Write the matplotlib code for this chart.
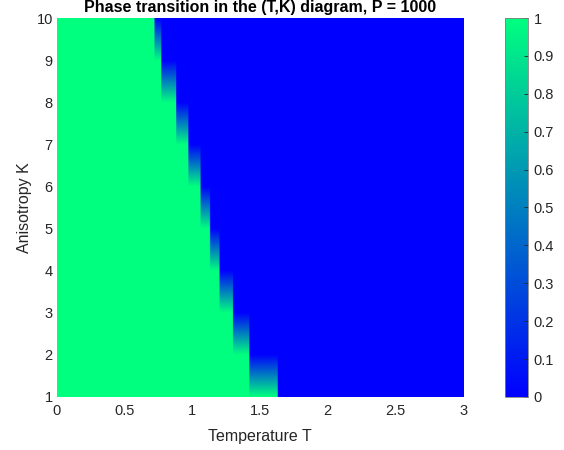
import numpy as np
import matplotlib
matplotlib.use("Agg")
import matplotlib.pyplot as plt
from matplotlib.ticker import FuncFormatter

plt.rcParams['font.family'] = ['Liberation Sans', 'DejaVu Sans']

# anisotropy values (rows) and the temperature where the ordered phase ends
K_vals = [1, 2, 3, 4, 5, 6, 7, 8, 9, 10]
T_c = [1.63, 1.42, 1.30, 1.20, 1.13, 1.06, 0.97, 0.88, 0.77, 0.72]
T_max = 3.0
x_ticks = [0, 0.5, 1, 1.5, 2, 2.5, 3]
y_ticks = [1, 2, 3, 4, 5, 6, 7, 8, 9, 10]
cb_ticks = [0, 0.1, 0.2, 0.3, 0.4, 0.5, 0.6, 0.7, 0.8, 0.9, 1]

# order parameter table on a fine T grid: 1 below T_c, 0 above
T = np.linspace(0, T_max, 601)
M = np.array([(T < tc).astype(float) for tc in T_c])

# interpolated shading between the K rows (like shading interp)
K_fine = np.linspace(K_vals[0], K_vals[-1], 451)
img = np.array([[np.interp(k, K_vals, M[:, j]) for j in range(len(T))] for k in K_fine])

fig = plt.figure(figsize=(5.64, 4.5), dpi=100)
ax = fig.add_axes([0.101, 0.118, 0.72, 0.842])
im = ax.imshow(img, origin='lower', extent=[0, T_max, K_vals[0], K_vals[-1]],
               aspect='auto', cmap='winter', vmin=0, vmax=1, interpolation='bilinear')
ax.set_xlim(0, 3)
ax.set_ylim(1, 10)
ax.set_xticks(x_ticks)
ax.set_xticklabels(['0', '0.5', '1', '1.5', '2', '2.5', '3'])
ax.set_yticks(y_ticks)
ax.tick_params(length=0, labelsize=10.5, colors='#262626')
ax.tick_params(axis='x', pad=5)
ax.tick_params(axis='y', pad=3)
for s in ax.spines.values():
    s.set_visible(False)
ax.set_xlabel('Temperature T', fontsize=11.5, color='#262626', labelpad=8)
ax.set_ylabel('Anisotropy K', fontsize=11.5, color='#262626', labelpad=3)
ax.set_title('Phase transition in the (T,K) diagram, P = 1000', fontsize=11.5,
             fontweight='bold', pad=4)

cax = fig.add_axes([0.895, 0.118, 0.041, 0.842])
cb = fig.colorbar(im, cax=cax, ticks=cb_ticks)
cb.ax.yaxis.set_major_formatter(FuncFormatter(lambda v, p: '%g' % v))
cb.ax.tick_params(direction='in', length=3, width=0.6, labelsize=10.5,
                  colors='#262626', pad=4)
cb.outline.set_edgecolor('#808080')
cb.outline.set_linewidth(0.6)

fig.savefig('out.png', dpi=100)
